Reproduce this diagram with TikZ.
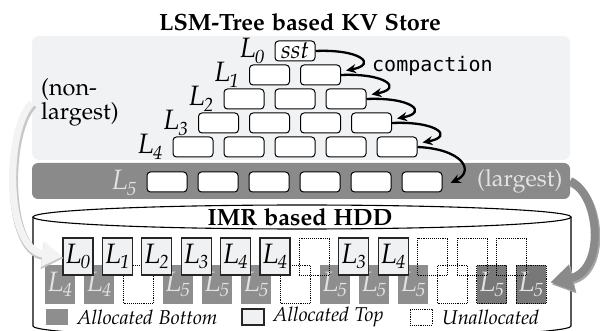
\documentclass[tikz,border=0pt]{standalone}
\usepackage[T1]{fontenc}
\usepackage{fontspec}
\newfontfamily\codefont{DejaVu Sans Mono}
\usetikzlibrary{arrows.meta,calc}
% Palatino (type1) for the text, DejaVu Sans Mono for code words
\newcommand\pal{\fontencoding{T1}\fontfamily{pplx}\fontsize{23.5}{24}\selectfont}
\newcommand\palkey{\fontencoding{T1}\fontfamily{pplx}\fontsize{20}{22}\selectfont\itshape}
\newcommand\lvl[1]{{\fontencoding{T1}\fontfamily{pplx}\fontsize{28}{28}\selectfont\itshape L\kern-0.03em\raisebox{-0.2em}{\fontsize{19}{19}\selectfont #1}}}
\definecolor{panelc}{HTML}{F1F2F4}
\definecolor{barc}{HTML}{8A8A8A}
\definecolor{cellc}{HTML}{8E8E8E}
\definecolor{darkc}{HTML}{787878}
\definecolor{topc}{HTML}{F0F1F3}
\definecolor{faintc}{HTML}{E2E2E2}
\definecolor{arrowlight}{HTML}{F3F3F3}
\begin{document}
\begin{tikzpicture}[x=1pt,y=-1pt,
  panelbox/.style={fill=panelc, rounded corners=7pt, minimum width=538pt, minimum height=124pt, inner sep=0pt},
  barbox/.style={fill=barc, rounded corners=6pt, minimum width=538pt, minimum height=36pt, inner sep=0pt},
  sstbox/.style={draw=black, fill=white, line width=1pt, rounded corners=3.5pt, minimum width=40pt, minimum height=20pt, inner sep=0pt},
  topcell/.style={draw=black!85, fill=topc, line width=1.1pt, minimum width=30pt, minimum height=37pt, inner sep=0pt},
  botcell/.style={fill=cellc, text=faintc, minimum width=30pt, minimum height=38pt, inner sep=0pt},
  freecell/.style={draw=black, densely dotted, line width=0.9pt, minimum width=30pt, minimum height=37pt, inner sep=0pt},
  darkcell/.style={botcell, fill=darkc, draw=black, densely dotted, line width=0.9pt},
  compact/.style={line width=2.3pt, -{Stealth[length=10pt,width=9pt]}},
  keybox/.style={minimum width=22pt, minimum height=16pt, inner sep=0pt},
  keytext/.style={anchor=west, inner sep=0pt, font=\palkey},
  lightarrow/.style={line width=7pt, draw=arrowlight, -{Triangle[length=20pt,width=24pt]}},
  lightrim/.style={line width=8.6pt, draw=black!22, -{Triangle[length=21.5pt,width=26pt]}},
  grayarrow/.style={line width=8pt, draw=barc, -{Triangle[length=22pt,width=26pt]}},
  shade/.style={draw=black!35},
]
\useasboundingbox (0,0) rectangle (600,331);
\clip (0,0) rectangle (600,331);

% ---------------- LSM-tree part ----------------
\node[font=\pal\bfseries] (title) at (300,22) {LSM-Tree based KV Store};
\node[panelbox] (panel) at (301,98) {};
\node[barbox] (bar) at (301,181) {};

\node[sstbox] (r0-1) at (295,51) {\fontencoding{T1}\fontfamily{pplx}\fontsize{25}{25}\selectfont\itshape sst};
\foreach \k in {1,...,4} {
  \pgfmathtruncatemacro\m{\k+1}
  \foreach \i in {1,...,\m}
    \node[sstbox] (r\k-\i) at ({275-25.5*\k+20+51*(\i-1)}, {51+24*\k}) {};
}
\foreach \k in {0,...,4}
  \node[anchor=base east, inner sep=0pt] (lab\k) at ($(r\k-1.west)+(-10,6.5)$) {\lvl{\k}};

\foreach \i in {1,...,6}
  \node[sstbox] (r5-\i) at ({167+51*(\i-1)}, 182) {};
\node[anchor=base east, inner sep=0pt, text=faintc] (lab5) at ($(r5-1.west)+(-10,8)$) {\lvl{5}};

\node[anchor=west, inner sep=0pt, font=\pal, align=left] (nonl) at (41,102) {(non-\\largest)};
\node[anchor=west, inner sep=0pt, text=faintc, font=\pal] (larg) at (477,181) {(largest)};
\node[anchor=west, inner sep=0pt] (cmp) at (372,66) {\codefont\fontsize{20}{20}\selectfont compaction};

% compaction arrows between levels
\draw[compact] (r0-1.east) .. controls +(45,-2) and +(32,-6) .. ($(r1-2.north east)+(5,6)$);
\draw[compact] (r1-2.east) .. controls +(45,-2) and +(32,-6) .. ($(r2-3.north east)+(5,6)$);
\draw[compact] (r2-3.east) .. controls +(45,-2) and +(32,-6) .. ($(r3-4.north east)+(5,6)$);
\draw[compact] (r3-4.east) .. controls +(45,-2) and +(32,-6) .. ($(r4-5.north east)+(5,6)$);
\draw[compact] (r4-5.east) .. controls +(45,2) and +(25,-12) .. ($(r5-6.east)+(8,1)$);

% ---------------- HDD part ----------------
\draw[line width=1.1pt, fill=white] (33,217) -- (33,326)
  arc[start angle=180, end angle=360, x radius=269pt, y radius=12pt] -- (571,217);
\draw[line width=1.1pt] (302,217) ellipse [x radius=269pt, y radius=12pt];
\node[font=\pal\bfseries] (hdd) at (300,217) {IMR based HDD};

% bottom track
\foreach \i/\st/\tx in {1/botcell/\lvl{4}, 2/botcell/\lvl{4}, 3/freecell/{}, 4/botcell/\lvl{5},
    5/botcell/\lvl{5}, 6/botcell/\lvl{5}, 7/freecell/{}, 8/botcell/\lvl{5}, 9/botcell/\lvl{5},
    10/botcell/\lvl{5}, 11/freecell/{}, 12/darkcell/\lvl{5}, 13/darkcell/\lvl{5}}
  \node[\st, minimum height=38pt] (b\i) at ({60+39.25*(\i-1)}, 284.5) {\tx};

% top track
\foreach \i/\st/\tx in {1/topcell/\lvl{0}, 2/topcell/\lvl{1}, 3/topcell/\lvl{2}, 4/topcell/\lvl{3},
    5/topcell/\lvl{4}, 6/topcell/\lvl{4}, 7/freecell/{}, 8/topcell/\lvl{3}, 9/topcell/\lvl{4},
    10/freecell/{}, 11/freecell/{}, 12/freecell/{}}
  \node[\st] (t\i) at ({78+39.4*(\i-1)}, 256.5) {\tx};

% legend
\node[keybox, fill=cellc] (k1) at (57,317) {};
\node[keytext] (k1t) at (77,317) {Allocated Bottom};
\node[keybox, draw=black!85, fill=topc, line width=1.1pt] (k2) at (253,317) {};
\node[keytext] (k2t) at (273,317) {Allocated Top};
\node[keybox, draw=black, densely dotted, line width=0.9pt] (k3) at (421,317) {};
\node[keytext] (k3t) at (442,317) {Unallocated};

% ---------------- placement arrows ----------------
\coordinate (nlA) at ($(panel.west)+(0,5)$);
\draw[lightrim] ([shift={(1.2,1.6)}]nlA) .. controls +(-27,27) and +(-58,-7) .. ([shift={(1.2,1.6)}]t1.west);
\draw[lightarrow] (nlA) .. controls +(-27,27) and +(-58,-7) .. (t1.west);

\coordinate (lgB) at ($(b13.east)+(4,-2)$);
\draw[grayarrow, shade] ([shift={(1.5,2)}]bar.east) .. controls +(30,14) and +(55,-12) .. ([shift={(1.5,2)}]lgB);
\draw[grayarrow] (bar.east) .. controls +(30,14) and +(55,-12) .. (lgB);
\end{tikzpicture}
\end{document}
